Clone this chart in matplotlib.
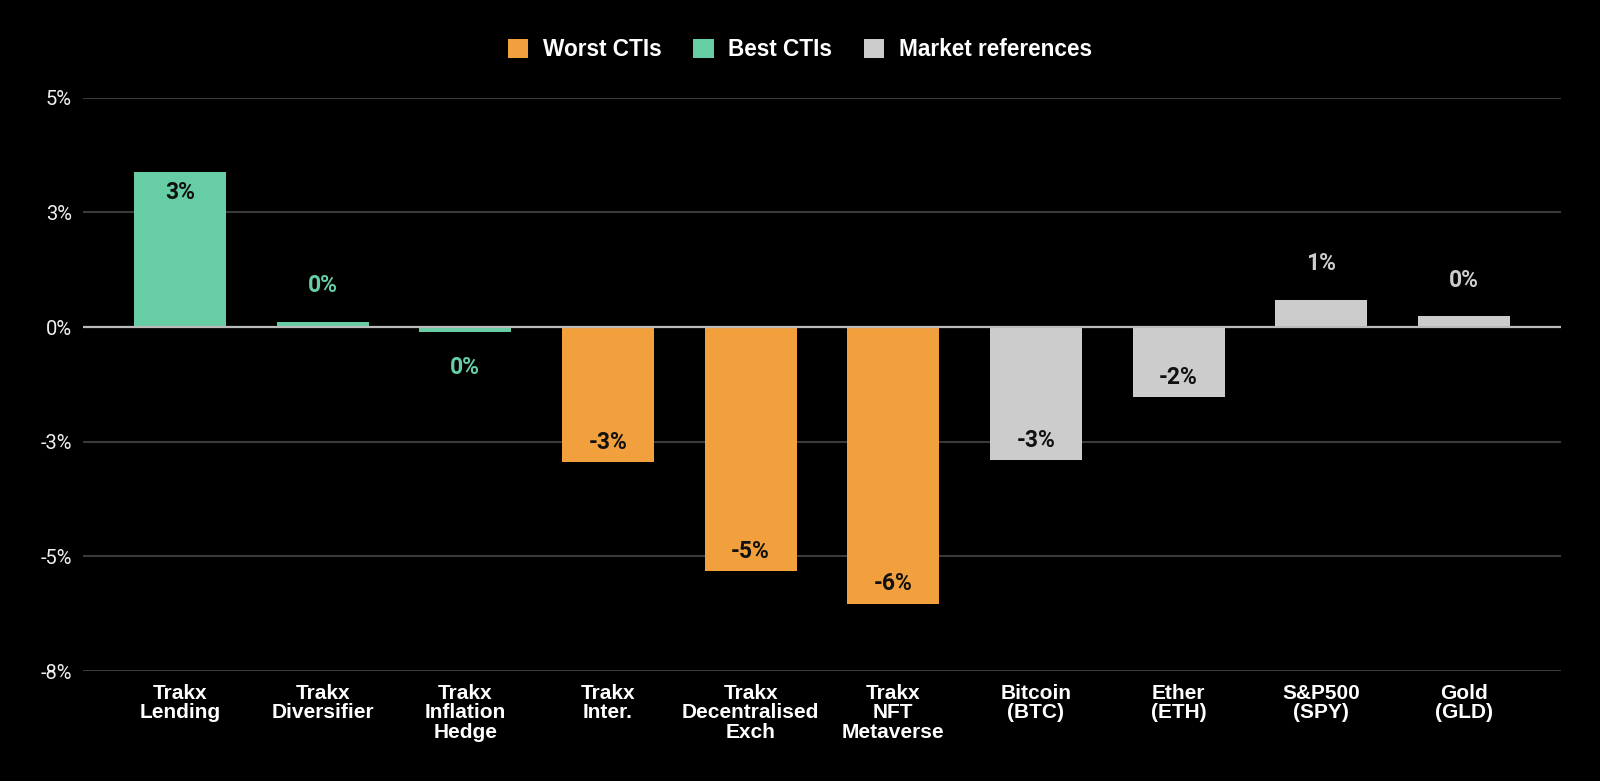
import numpy as np
import matplotlib
matplotlib.use("Agg")
import matplotlib.pyplot as plt
from matplotlib.patches import Patch
from matplotlib.ticker import FuncFormatter

# values (percent)
categories = [
    "Trakx\nLending", "Trakx\nDiversifier", "Trakx\nInflation\nHedge",
    "Trakx\nInter.", "Trakx\nDecentralised\nExch", "Trakx\nNFT\nMetaverse",
    "Bitcoin\n(BTC)", "Ether\n(ETH)", "S&P500\n(SPY)", "Gold\n(GLD)",
]
returns = [3.37, 0.12, -0.10, -2.95, -5.32, -6.03, -2.90, -1.53, 0.59, 0.23]
groups = ["best", "best", "best", "worst", "worst", "worst",
          "market", "market", "market", "market"]

y_ticks = [5, 2.5, 0, -2.5, -5, -7.5]

colors = {"worst": "#F2A03D", "best": "#66CDA4", "market": "#CCCCCC"}
legend_names = {"worst": "Worst CTIs", "best": "Best CTIs",
                "market": "Market references"}


def pct_round(v):
    # round half away from zero, like the chart labels
    r = np.sign(v) * np.floor(abs(v) + 0.5)
    return f"{int(r)}%"


fig = plt.figure(figsize=(16, 7.81), dpi=100, facecolor="black")
ax = fig.add_axes([0.0519, 0.1408, 0.9237, 0.7341])
ax.set_facecolor("black")

x = np.arange(len(categories))
bar_colors = [colors[g] for g in groups]
bars = ax.bar(x, returns, width=0.645, color=bar_colors, zorder=2)

ax.set_xlim(-0.68, len(categories) - 1 + 0.68)
ax.set_ylim(-7.5, 5)
ax.set_yticks(y_ticks)
ax.yaxis.set_major_formatter(FuncFormatter(lambda v, pos: pct_round(v)))
ax.grid(axis="y", color="#3a3a3a", linewidth=1.5, zorder=0)
ax.axhline(0, color="#bbbbbb", linewidth=1.6, zorder=3)

for side in ["top", "right", "bottom", "left"]:
    ax.spines[side].set_visible(False)

ax.tick_params(axis="y", length=0, pad=8, colors="#f0f0f0")
ax.tick_params(axis="x", length=0, pad=9)
for lab in ax.get_yticklabels():
    lab.set_fontfamily("Roboto")
    lab.set_fontsize(14.5)

ax.set_xticks(x)
ax.set_xticklabels(categories, family="Liberation Sans", fontweight="bold",
                   fontsize=15, color="white", linespacing=1.05, va="top")

# value labels: inside the bar end when it is long enough, outside otherwise
for xi, v, g in zip(x, returns, groups):
    inside = abs(v) > 1.0
    direction = 1 if v >= 0 else -1
    if inside:
        offset = -20 * direction
        color = "#111111"
    else:
        offset = 36 * direction
        color = colors[g]
    ax.annotate(pct_round(v), xy=(xi, v), xytext=(0, offset),
                textcoords="offset pixels", ha="center", va="center",
                family="Roboto", fontweight="bold", fontsize=16.5,
                color=color, zorder=4)

handles = [Patch(facecolor=colors[k], edgecolor="none", label=legend_names[k])
           for k in ["worst", "best", "market"]]
leg = fig.legend(handles=handles, loc="center", bbox_to_anchor=(0.5, 0.936),
                 ncol=3, frameon=False, handlelength=0.9, handleheight=0.9,
                 handletextpad=0.65, columnspacing=1.4,
                 prop={"family": "Liberation Sans", "weight": "bold",
                       "size": 16.3})
for t in leg.get_texts():
    t.set_color("white")

fig.savefig("out.png", dpi=100, facecolor="black")
